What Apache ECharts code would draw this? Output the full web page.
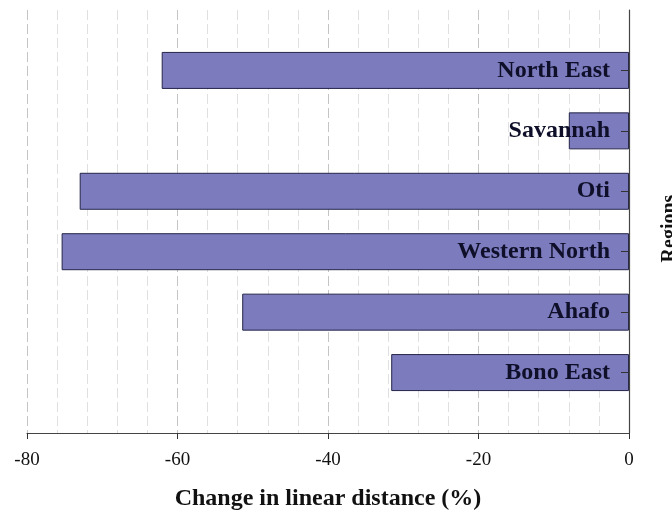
<!DOCTYPE html>
<html>
<head>
<meta charset="utf-8">
<script src="https://cdn.jsdelivr.net/npm/echarts@6/dist/echarts.min.js"></script>
<style>
html,body{margin:0;padding:0;background:#fff;}
#chart{width:672px;height:511px;}
</style>
</head>
<body>
<div id="chart"></div>
<script>
// Data (bottom to top)
const regions = ['Bono East', 'Ahafo', 'Western North', 'Oti', 'Savannah', 'North East'];
const changePct = [-31.6, -51.4, -75.4, -73.0, -8.0, -62.1];
const xTicks = [-80, -60, -40, -20, 0];

// Pad with empty slots so categories sit at positions 1..6 on a 0..7 range
const cats = [''].concat(regions, ['']);
const vals = [null].concat(changePct, [null]);

const chart = echarts.init(document.getElementById('chart'));
const serif = '"Liberation Serif", "Times New Roman", serif';
chart.setOption({
  animation: false,
  backgroundColor: '#fff',
  grid: { left: 27, right: 43, top: 10, bottom: 78, containLabel: false, outerBoundsMode: 'none' },
  xAxis: {
    type: 'value',
    min: xTicks[0], max: xTicks[xTicks.length - 1], interval: 20,
    name: 'Change in linear distance (%)',
    nameLocation: 'middle', nameGap: 54,
    nameTextStyle: { fontFamily: serif, fontWeight: 'bold', fontSize: 24, color: '#111' },
    axisLine: { show: true, lineStyle: { color: '#444', width: 1.2 } },
    axisTick: { show: true, length: 6, lineStyle: { color: '#333' } },
    axisLabel: { fontFamily: serif, fontSize: 19, color: '#111', margin: 18 },
    splitLine: { show: true, lineStyle: { color: '#c4c4c4', type: [10, 4], width: 1 } },
    minorTick: { show: false, splitNumber: 5 },
    minorSplitLine: { show: true, lineStyle: { color: '#e0e0e0', type: [10, 4], width: 1 } }
  },
  yAxis: {
    type: 'category',
    position: 'right',
    data: cats,
    boundaryGap: false,
    z: 5,
    name: 'Regions',
    nameLocation: 'middle', nameGap: 31, nameRotate: 90,
    nameTextStyle: { fontFamily: serif, fontWeight: 'bold', fontSize: 20, color: '#111', padding: [0, 14, 0, 0] },
    axisLine: { show: true, onZero: false, lineStyle: { color: '#444', width: 1.2 } },
    axisTick: { show: true, inside: true, length: 8, lineStyle: { color: '#333' },
      interval: function (i, v) { return v !== ''; } },
    axisLabel: { inside: true, margin: 19, fontFamily: serif, fontWeight: 'bold', fontSize: 24,
      color: '#0f0f2a', interval: 0 },
    splitLine: { show: false }
  },
  series: [{
    type: 'bar',
    data: vals,
    barWidth: 37,
    itemStyle: { color: '#7b7bbd', borderColor: '#25254a', borderWidth: 1 }
  }]
});
</script>
</body>
</html>
